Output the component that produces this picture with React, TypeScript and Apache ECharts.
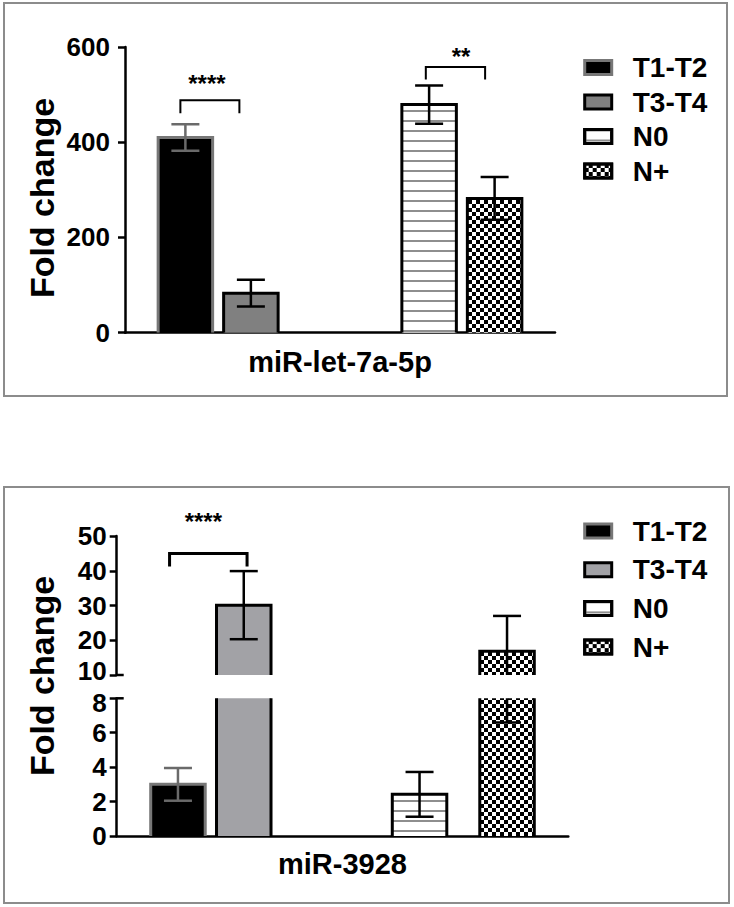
import React, { useEffect, useRef } from 'react';
import * as echarts from 'echarts';

// ---------- data ----------
const groups = ['T1-T2', 'T3-T4', 'N0', 'N+'];

const categoryA = ['miR-let-7a-5p'];
const meanA = [410, 83, 479, 282];
const semA = [28, 28, 40, 45];
const yTicksA = [0, 200, 400, 600];

const categoryB = ['miR-3928'];
const meanB = [3.0, 30.1, 2.42, 16.8];
const semB = [0.95, 9.8, 1.3, 10.2];
const yTicksBLow = [0, 2, 4, 6, 8];
const yTicksBHigh = [10, 20, 30, 40, 50];

const sigA = [
  { from: 0, to: 1, bracket: 488, leg: 461, label: '****' },
  { from: 2, to: 3, bracket: 558, leg: 532, label: '**' },
];
const sigB = [{ from: 0, to: 1, bracket: 45, leg: 41.2, label: '****' }];

// ---------- styles / layout ----------
const FONT = '"Liberation Sans", Arial, Helvetica, sans-serif';
const FILL_W = 54.5;
const layoutA = { widths: [FILL_W, FILL_W, 93.8, FILL_W, FILL_W], slots: [0, 1, 3, 4], gap: 0.2018 };
const layoutB = { widths: [FILL_W, FILL_W, 91.1, FILL_W, 17.97, FILL_W], slots: [0, 1, 3, 5], gap: 0.2073 };
const sigStyleA = [
  { dxL: -5, dxR: -11.5, lw: 2, tx: -3, ty: 17 },
  { dxL: -3.3, dxR: -9.5, lw: 2, tx: 5.6, ty: 10 },
];
const sigStyleB = [{ dxL: -8.4, dxR: 3.3, lw: 3, tx: -5, ty: 32 }];

const stripeDecal = { symbol: 'rect', symbolSize: 1, color: '#8e8e8e', dashArrayX: [10, 0], dashArrayY: [1.2, 7.3] };
const checkDecal = { symbol: 'rect', symbolSize: 1, color: '#000', dashArrayX: [[4, 4], [0, 4, 4, 0]], dashArrayY: [4, 0] };

const fillsA = [{ color: '#000' }, { color: '#808080' }, { color: '#fff', decal: stripeDecal }, { color: '#fff', decal: checkDecal }];
const fillsB = [{ color: '#000' }, { color: '#a2a2a6' }, { color: '#fff', decal: stripeDecal }, { color: '#fff', decal: checkDecal }];
const outlineColors = ['#777777', '#000', '#000', '#000'];
const errColors = ['#6a6a6a', '#000', '#000', '#000'];

function centers(widths: number[], g: number) {
  let total = 0;
  widths.forEach((w) => (total += w * (1 + g)));
  total -= widths[widths.length - 1] * g;
  let off = -total / 2;
  const res: number[] = [];
  widths.forEach((w) => {
    res.push(off + w / 2);
    off += w * (1 + g);
  });
  return res;
}

function panelSeries(xAxisIndex: number, yAxisIndex: number, mean: number[], sem: number[], layout: any, fills: any[]) {
  const series: any[] = [];
  const pct = (layout.gap * 100).toFixed(2) + '%';
  layout.widths.forEach((w: number, si: number) => {
    const gIdx = layout.slots.indexOf(si);
    if (gIdx < 0) {
      series.push({ type: 'bar', name: 'spacer', xAxisIndex, yAxisIndex, barWidth: w, barGap: pct, data: ['-'], silent: true });
      return;
    }
    series.push({
      type: 'bar', name: groups[gIdx], xAxisIndex, yAxisIndex, barWidth: w, barGap: pct, clip: true, silent: true,
      itemStyle: { ...fills[gIdx], borderWidth: 0 },
      data: [mean[gIdx]],
    });
  });
  const cs = centers(layout.widths, layout.gap);
  series.push({
    type: 'custom', xAxisIndex, yAxisIndex, clip: true, z: 3, silent: true,
    data: mean.map((m, i) => [0, m, sem[i], i]),
    renderItem: (params: any, api: any) => {
      const i = api.value(3);
      const m = api.value(1);
      const e = api.value(2);
      const top = api.coord([0, m]);
      const base = api.coord([0, 0]);
      const x = top[0] + cs[layout.slots[i]];
      const hw = layout.widths[layout.slots[i]] / 2;
      const up = api.coord([0, m + e])[1];
      const lo = api.coord([0, m - e])[1];
      const es = { stroke: errColors[i], lineWidth: 2.5 };
      return {
        type: 'group',
        children: [
          { type: 'polyline', shape: { points: [[x - hw, base[1]], [x - hw, top[1]], [x + hw, top[1]], [x + hw, base[1]]] }, style: { stroke: outlineColors[i], lineWidth: 3, fill: 'none' } },
          { type: 'line', shape: { x1: x, y1: up, x2: x, y2: lo }, style: es },
          { type: 'line', shape: { x1: x - 14, y1: up, x2: x + 14, y2: up }, style: es },
          { type: 'line', shape: { x1: x - 14, y1: lo, x2: x + 14, y2: lo }, style: es },
        ],
      };
    },
  });
  return series;
}

function sigSeries(xAxisIndex: number, yAxisIndex: number, sig: any[], sty: any[], layout: any) {
  const cs = centers(layout.widths, layout.gap);
  return {
    type: 'custom', xAxisIndex, yAxisIndex, z: 4, silent: true,
    data: sig.map((s, k) => [0, s.bracket, s.leg, k]),
    renderItem: (params: any, api: any) => {
      const k = api.value(3);
      const s = sig[k];
      const st = sty[k];
      const pb = api.coord([0, api.value(1)]);
      const yl = api.coord([0, api.value(2)])[1];
      const xl = pb[0] + cs[layout.slots[s.from]] + st.dxL;
      const xr = pb[0] + cs[layout.slots[s.to]] + st.dxR;
      return {
        type: 'group',
        children: [
          { type: 'polyline', shape: { points: [[xl, yl], [xl, pb[1]], [xr, pb[1]], [xr, yl]] }, style: { stroke: '#000', lineWidth: st.lw, fill: 'none' } },
          { type: 'text', x: (xl + xr) / 2 + st.tx, y: pb[1] - st.ty, style: { text: s.label, font: `bold 24px ${FONT}`, fill: '#000', align: 'center', verticalAlign: 'middle' } },
        ],
      };
    },
  };
}

const axisLineStyle = { color: '#000', width: 2.5 };
const labelStyle = { color: '#000', fontFamily: FONT, fontWeight: 'bold', fontSize: 26 };

// shift: 'up' lifts the lowest label a little, 'down' lowers the highest one (axis break)
function yAxis(gridIndex: number, ticks: number[], margin: number, shift?: 'up' | 'down') {
  const lo = ticks[0];
  const hi = ticks[ticks.length - 1];
  return {
    gridIndex, type: 'value', min: lo, max: hi, interval: ticks[1] - ticks[0],
    axisLine: { show: true, lineStyle: axisLineStyle },
    axisTick: { show: true, length: 7, lineStyle: axisLineStyle },
    axisLabel: {
      ...labelStyle, margin,
      formatter: (v: number) => {
        if (shift === 'up' && v === lo) return `{up|${v}}`;
        if (shift === 'down' && v === hi) return `{dn|${v}}`;
        return `${v}`;
      },
      rich: {
        up: { ...labelStyle, padding: [0, 0, 9, 0] },
        dn: { ...labelStyle, padding: [9, 0, 0, 0] },
      },
    },
    splitLine: { show: false },
  };
}

function xAxis(gridIndex: number, data: string[], show: boolean, margin: number) {
  return {
    gridIndex, type: 'category', data, show,
    axisLine: { show: true, lineStyle: axisLineStyle },
    axisTick: { show: false },
    axisLabel: { color: '#000', fontFamily: FONT, fontWeight: 'bold', fontSize: 29, margin },
  };
}

function legend(top: number, gap: number, t34Color: string) {
  const b = (c: string) => ({ borderColor: c, borderWidth: 3 });
  return {
    orient: 'vertical', left: 583.2, top, itemWidth: 27, itemHeight: 14, itemGap: gap, padding: 0,
    icon: 'rect', selectedMode: false,
    textStyle: { color: '#000', fontFamily: FONT, fontWeight: 'bold', fontSize: 28, padding: [0, 0, 0, 16] },
    data: [
      { name: groups[0], itemStyle: b('#777777') },
      { name: groups[1], itemStyle: { ...b('#000'), color: t34Color } },
      { name: groups[2], itemStyle: b('#000') },
      { name: groups[3], itemStyle: b('#000') },
    ],
  };
}

export default function App() {
  const ref = useRef<HTMLDivElement>(null);
  useEffect(() => {
    if (!ref.current) return;
    const chart = echarts.init(ref.current, undefined, { renderer: 'svg' });
    const G = [
      { left: 125, top: 47, width: 430, height: 285.7 },
      { left: 116.7, top: 536, width: 451.6, height: 139 },
      { left: 116.7, top: 698.3, width: 451.6, height: 137.7 },
    ];
    const option: any = {
      animation: false,
      backgroundColor: '#fff',
      textStyle: { fontFamily: FONT },
      grid: G.map((g) => ({ ...g, outerBoundsMode: 'none', containLabel: false })),
      xAxis: [xAxis(0, categoryA, true, 15), xAxis(1, categoryB, false, 14), xAxis(2, categoryB, true, 13)],
      yAxis: [yAxis(0, yTicksA, 15), yAxis(1, yTicksBHigh, 10, 'up'), yAxis(2, yTicksBLow, 10, 'down')],
      legend: [legend(53.5, 6.5, '#808080'), legend(517, 10.7, '#a2a2a6')],
      series: [
        ...panelSeries(0, 0, meanA, semA, layoutA, fillsA),
        sigSeries(0, 0, sigA, sigStyleA, layoutA),
        ...panelSeries(1, 1, meanB, semB, layoutB, fillsB),
        ...panelSeries(2, 2, meanB, semB, layoutB, fillsB),
        sigSeries(1, 1, sigB, sigStyleB, layoutB),
      ],
      graphic: [
        { type: 'rect', shape: { x: 4, y: 3, width: 723, height: 393 }, style: { fill: 'none', stroke: '#8c8c8c', lineWidth: 2 }, silent: true },
        { type: 'rect', shape: { x: 4, y: 487, width: 725, height: 416 }, style: { fill: 'none', stroke: '#8c8c8c', lineWidth: 2 }, silent: true },
        { type: 'line', shape: { x1: G[1].left, y1: G[1].top + G[1].height, x2: G[1].left + 7, y2: G[1].top + G[1].height }, style: { stroke: '#000', lineWidth: 2.5 }, silent: true },
        { type: 'line', shape: { x1: G[2].left, y1: G[2].top, x2: G[2].left + 7, y2: G[2].top }, style: { stroke: '#000', lineWidth: 2.5 }, silent: true },
        { type: 'text', x: 42, y: 198, rotation: Math.PI / 2, style: { text: 'Fold change', font: `bold 34px ${FONT}`, fill: '#000', align: 'center', verticalAlign: 'middle' }, silent: true },
        { type: 'text', x: 42, y: 676, rotation: Math.PI / 2, style: { text: 'Fold change', font: `bold 34px ${FONT}`, fill: '#000', align: 'center', verticalAlign: 'middle' }, silent: true },
      ],
    };
    chart.setOption(option);
    return () => chart.dispose();
  }, []);
  return <div ref={ref} style={{ position: 'absolute', left: 0, top: 0, width: 734, height: 907, background: '#fff' }} />;
}
